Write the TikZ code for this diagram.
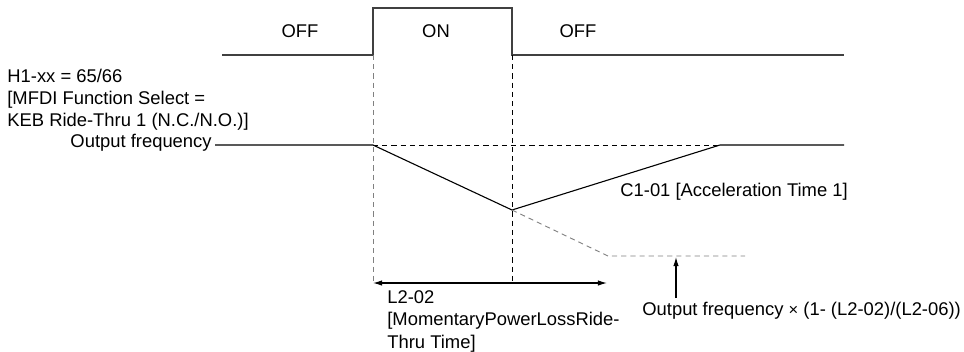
\documentclass[tikz,border=0pt]{standalone}
\usepackage{fontspec}
\setmainfont{Liberation Sans}
\usetikzlibrary{arrows.meta}

\begin{document}
\begin{tikzpicture}[x=0.5435pt,y=-0.5435pt,
    lbl/.style={inner sep=0pt,font=\fontsize{10}{12}\selectfont},
    sig/.style={line width=0.75pt,black!75},
    frq/.style={line width=0.6pt,black},
    dsh/.style={line width=0.5pt,dash pattern=on 2.8pt off 2.2pt},
    tip/.style={-{Latex[length=5pt,width=3pt]},line width=0.6pt}]
    \useasboundingbox (0,0) rectangle (964,351);
    % key points of the two curves
    \coordinate (s0) at (222,55);
    \coordinate (up) at (373,55);
    \coordinate (dn) at (512,55);
    \coordinate (s1) at (844,55);
    \coordinate (f0) at (215,145);
    \coordinate (fa) at (373,145);
    \coordinate (fk) at (512,210);
    \coordinate (fc) at (720,145);
    \coordinate (f1) at (844,145);
    \coordinate (ga) at (608,256);
    \coordinate (gb) at (745,256);
    \coordinate (la) at (373,283);
    \coordinate (lb) at (512,283);
    \coordinate (le) at (607,283);
    \coordinate (pa) at (676,298);
    \coordinate (pb) at (676,257);
    % labels (base = last line of a block)
    \node[lbl,anchor=base west,align=left] (mfdi) at (7,126.6)
        {H1-xx = 65/66\\{[}MFDI Function Select =\\KEB Ride-Thru 1 (N.C./N.O.)]};
    \node[lbl,anchor=base east] (outf) at (212,147.5) {Output frequency};
    \node[lbl,anchor=base] (off1) at (300,37.5) {OFF};
    \node[lbl,anchor=base] (on) at (436,37.5) {ON};
    \node[lbl,anchor=base] (off2) at (578,37.5) {OFF};
    \node[lbl,anchor=base west] (acc) at (620,196) {C1-01 [Acceleration Time 1]};
    \node[lbl,anchor=base west,align=left] (ride) at (387,348)
        {L2-02\\{[}MomentaryPowerLossRide-\\Thru Time]};
    \node[lbl,anchor=base west] (lowf) at (642,315)
        {Output frequency {\small×} (1- (L2-02)/(L2-06))};
    % input signal
    \draw[sig] (s0) -- (up) -- (373,8) -- (512,8) -- (dn) -- (s1);
    % output frequency
    \draw[dsh] (fa) -- (fc);
    \draw[frq] (f0) -- (fa) -- (fk) -- (fc) -- (f1);
    \draw[dsh,gray] (fk) -- (ga) -- (gb);
    % time marks
    \draw[dsh,gray] (up) -- (la);
    \draw[dsh] (dn) -- (lb);
    \draw[tip,{Latex[length=5pt,width=3pt]}-{Latex[length=5pt,width=3pt]}] (la) -- (le);
    \draw[tip] (pa) -- (pb);
\end{tikzpicture}
\end{document}
